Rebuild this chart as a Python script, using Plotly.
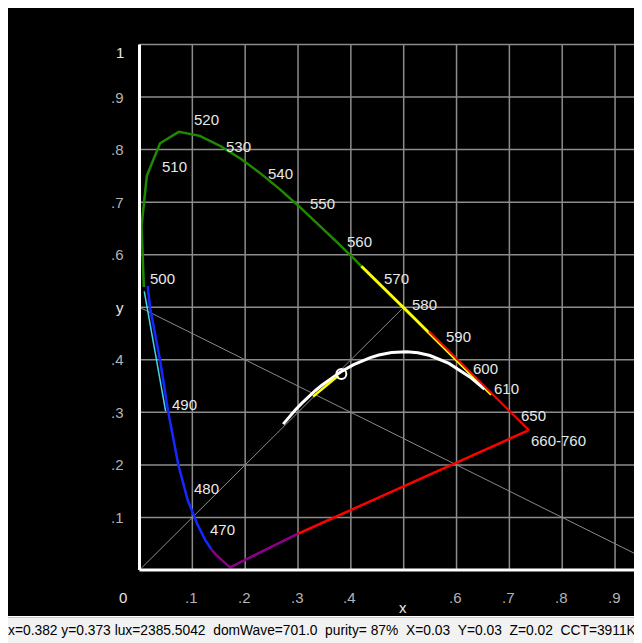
import plotly.graph_objects as go

# ---------------- data ----------------
# CIE 1931 2-degree spectral locus: wavelength (nm), x, y
locus_wl = [380, 400, 420, 430, 440, 450, 460, 465, 470, 475, 480, 485, 490, 495,
            500, 505, 510, 515, 520, 525, 530, 535, 540, 545, 550, 555, 560, 565,
            570, 575, 580, 585, 590, 595, 600, 605, 610, 615, 620, 625, 630, 635,
            640, 645, 650, 655, 660, 700]
locus_x = [0.1741, 0.1733, 0.1714, 0.1689, 0.1644, 0.1566, 0.1440, 0.1355, 0.1241, 0.1096,
           0.0913, 0.0687, 0.0454, 0.0235, 0.0082, 0.0039, 0.0139, 0.0389, 0.0743, 0.1142,
           0.1547, 0.1929, 0.2296, 0.2658, 0.3016, 0.3373, 0.3731, 0.4087, 0.4441, 0.4788,
           0.5125, 0.5448, 0.5752, 0.6029, 0.6270, 0.6482, 0.6658, 0.6801, 0.6915, 0.7006,
           0.7079, 0.7140, 0.7190, 0.7230, 0.7260, 0.7283, 0.7300, 0.7347]
locus_y = [0.0050, 0.0048, 0.0051, 0.0069, 0.0109, 0.0177, 0.0297, 0.0399, 0.0578, 0.0868,
           0.1327, 0.2007, 0.2950, 0.4127, 0.5384, 0.6548, 0.7502, 0.8120, 0.8338, 0.8262,
           0.8059, 0.7816, 0.7543, 0.7243, 0.6923, 0.6589, 0.6245, 0.5896, 0.5547, 0.5202,
           0.4866, 0.4544, 0.4242, 0.3965, 0.3725, 0.3514, 0.3340, 0.3197, 0.3083, 0.2993,
           0.2920, 0.2859, 0.2809, 0.2770, 0.2740, 0.2717, 0.2700, 0.2653]

# blue and cyan strokes as drawn
blue_x = [0.1355, 0.1241, 0.1096, 0.0913, 0.0735, 0.0545, 0.0388, 0.0199, 0.0155]
blue_y = [0.0399, 0.0578, 0.0868, 0.1327, 0.2000, 0.3000, 0.4000, 0.5000, 0.5400]
cyan_x = [0.0495, 0.0300, 0.0090]
cyan_y = [0.3020, 0.4100, 0.5300]

# colour break points
purple_red_split = (0.300, 0.069)
green_yellow_split = (0.420, 0.578)

# Planckian locus, 1000 K .. 12000 K
planck_x = [0.6528, 0.6251, 0.5857, 0.5497, 0.5267, 0.5056, 0.4770, 0.4528, 0.4369, 0.4053,
            0.3805, 0.3608, 0.3451, 0.3325, 0.3221, 0.3135, 0.3064, 0.2952, 0.2869, 0.2807,
            0.2719]
planck_y = [0.3444, 0.3674, 0.3931, 0.4081, 0.4133, 0.4152, 0.4137, 0.4090, 0.4041, 0.3907,
            0.3768, 0.3636, 0.3516, 0.3411, 0.3318, 0.3237, 0.3166, 0.3048, 0.2956, 0.2884,
            0.2776]

# short yellow trace near the measurement
trace_x = [0.3285, 0.3760]
trace_y = [0.3300, 0.3695]

# measured chromaticity
meas_x = [0.382]
meas_y = [0.373]

# reference diagonals
diag1_x = [0.0, 0.5]
diag1_y = [0.0, 0.5]
diag2_x = [0.0, 1.0]
diag2_y = [0.5, 0.0]

grid_vals = [0.1, 0.2, 0.3, 0.4, 0.5, 0.6, 0.7, 0.8, 0.9, 1.0]
ytick_vals = [1.0, 0.9, 0.8, 0.7, 0.6, 0.5, 0.4, 0.3, 0.2, 0.1]
ytick_text = ["1", ".9", ".8", ".7", ".6", "y", ".4", ".3", ".2", ".1"]
xtick_vals = [0.0, 0.1, 0.2, 0.3, 0.4, 0.5, 0.6, 0.7, 0.8, 0.9]
xtick_text = ["0", ".1", ".2", ".3", ".4", "x", ".6", ".7", ".8", ".9"]

label_wl = [470, 480, 490, 500, 510, 520, 530, 540, 550, 560, 570, 580, 590, 600, 610, 650, 700]
label_text = ["470", "480", "490", "500", "510", "520", "530", "540", "550", "560", "570",
              "580", "590", "600", "610", "650", "660-760"]

status_text = ("x=0.382 y=0.373 lux=2385.5042\u00a0\u00a0domWave=701.0\u00a0\u00a0purity=\u00a087%"
               "\u00a0\u00a0X=0.03\u00a0\u00a0Y=0.03\u00a0\u00a0Z=0.02\u00a0\u00a0CCT=3911K")

# ---------------- layout geometry ----------------
# page body has an 8px margin; figure sits at (8, 8) in the window
W, H = 634, 635
ML, MR, MT, MB = 0, 0, 0, 27
X0PX, XSCALE = 131.5, 528.4   # figure pixel of x=0 and px per unit
Y0PX, YSCALE = 562.0, 525.5
x_range = [(ML - X0PX) / XSCALE, (W - MR - X0PX) / XSCALE]
y_range = [(Y0PX - (H - MB)) / YSCALE, (Y0PX - MT) / YSCALE]
shift = 1.5 / XSCALE

def pt(wl):
    i = locus_wl.index(wl)
    return locus_x[i], locus_y[i]

def seg(w0, w1):
    xs, ys = [], []
    for w, x, y in zip(locus_wl, locus_x, locus_y):
        if w0 <= w <= w1:
            xs.append(x); ys.append(y)
    return xs, ys

fig = go.Figure()

# grid & axes as shapes
GRID = "#8c8c8c"
for v in grid_vals:
    fig.add_shape(type="line", xref="x", yref="y", x0=v, x1=v, y0=0, y1=1,
                  line=dict(color=GRID, width=1.5), layer="below")
    fig.add_shape(type="line", xref="x", yref="y", x0=0, x1=1.0, y0=v, y1=v,
                  line=dict(color=GRID, width=1.5), layer="below")

def line(xs, ys, color, width, xaxis="x"):
    fig.add_trace(go.Scatter(x=xs, y=ys, mode="lines", xaxis=xaxis,
                             line=dict(color=color, width=width), hoverinfo="skip",
                             showlegend=False))

line(diag1_x, diag1_y, "#8a8a8a", 1)
line(diag2_x, diag2_y, "#8a8a8a", 1)

# purple (violet end + part of line of purples)
px_, py_ = seg(380, 465)
px_ = [purple_red_split[0]] + px_
py_ = [purple_red_split[1]] + py_
line(px_, py_, "#8a008a", 2.5)
# red line of purples
line([purple_red_split[0], pt(700)[0]], [purple_red_split[1], pt(700)[1]], "#ff0000", 2.5)

# blue & cyan
line(blue_x, blue_y, "#1428ff", 2.5)
line(cyan_x, cyan_y, "#40d8e8", 1.5)

# green
gx, gy = seg(500, 565)
line(gx + [green_yellow_split[0]], gy + [green_yellow_split[1]], "#1f8a00", 2.5)
# yellow
yx, yy = seg(570, 610)
line([green_yellow_split[0]] + yx, [green_yellow_split[1]] + yy, "#ffff00", 3)
# red
rx, ry = seg(585, 700)
line(rx, ry, "#ff0000", 2.2, xaxis="x2")

# Planckian locus
line(planck_x, planck_y, "#ffffff", 3)
line(trace_x, trace_y, "#ffff00", 2.5)
fig.add_trace(go.Scatter(x=meas_x, y=meas_y, mode="markers", hoverinfo="skip",
                         marker=dict(symbol="circle-open", size=10, color="#ffffff",
                                     line=dict(width=2, color="#ffffff")),
                         showlegend=False))

# white axes
fig.add_shape(type="line", xref="x", yref="y", x0=0, x1=0, y0=0, y1=1,
              line=dict(color="#ffffff", width=3))
fig.add_shape(type="line", xref="x", yref="y", x0=0, x1=1.0, y0=0, y1=0,
              line=dict(color="#ffffff", width=3))

FONT = "Liberation Sans, Arial, sans-serif"
TICK_C = "#b4b4b4"
FS = 15

# tick labels
for v, t in zip(ytick_vals, ytick_text):
    fig.add_annotation(x=0, y=v, xref="x", yref="y", text=t, showarrow=False,
                       xanchor="right", yanchor="middle", xshift=-14,
                       yshift=-8 if t == "1" else 0,
                       font=dict(family=FONT, size=FS,
                                 color="#e6e6e6" if t in ("1", "y") else TICK_C))
for v, t in zip(xtick_vals, xtick_text):
    xs = -17 if t == "0" else -1
    ys = -37 if t == "x" else -27
    fig.add_annotation(x=v, y=0, xref="x", yref="y", text=t, showarrow=False,
                       xanchor="center", yanchor="middle", xshift=xs, yshift=ys,
                       font=dict(family=FONT, size=FS,
                                 color="#e6e6e6" if t in ("0", "x") else TICK_C))

# wavelength labels, offsets in pixels from locus point
label_dx = [3, 4, 7, 4, 13, 13, 3, 5, 9, 8, 8, 0, 1, 0, 1, -4, 1]
label_dy = [10, 12, 10, 9, 9, 12, 0, 0, 3, 0, 0, 10, 11, 6, 6, 11, -10]
for w, t, dx, dy in zip(label_wl, label_text, label_dx, label_dy):
    x, y = pt(w)
    fig.add_annotation(x=x, y=y, xref="x", yref="y", text=t, showarrow=False,
                       xanchor="left", yanchor="middle", xshift=dx, yshift=dy,
                       font=dict(family=FONT, size=FS, color="#e8e8e8"))

# status bar
plot_h = H - MT - MB
plot_w = W - ML - MR
fig.add_shape(type="rect", xref="paper", yref="paper",
              x0=0, x1=1.0, y0=-MB / plot_h, y1=-1 / plot_h,
              fillcolor="#f2f2f2", line=dict(width=0), layer="above")
fig.add_shape(type="line", xref="paper", yref="paper",
              x0=0, x1=1.0, y0=-1.5 / plot_h, y1=-1.5 / plot_h,
              line=dict(color="#c8c8c8", width=1))
fig.add_annotation(x=0, y=-14 / plot_h, xref="paper", yref="paper",
                   text=status_text, showarrow=False, xanchor="left", yanchor="middle",
                   xshift=-2, font=dict(family=FONT, size=13.8, color="#000000"))

fig.update_layout(
    width=W, height=H, autosize=False,
    margin=dict(l=ML, r=MR, t=MT, b=MB, pad=0),
    paper_bgcolor="#ffffff", plot_bgcolor="#000000",
    xaxis=dict(range=x_range, visible=False, showgrid=False, zeroline=False, fixedrange=True),
    xaxis2=dict(range=[x_range[0] - shift, x_range[1] - shift], overlaying="x",
                visible=False, showgrid=False, zeroline=False, fixedrange=True),
    yaxis=dict(range=y_range, visible=False, showgrid=False, zeroline=False, fixedrange=True),
    showlegend=False,
)

fig.write_html("out.html", config={"displayModeBar": False})
